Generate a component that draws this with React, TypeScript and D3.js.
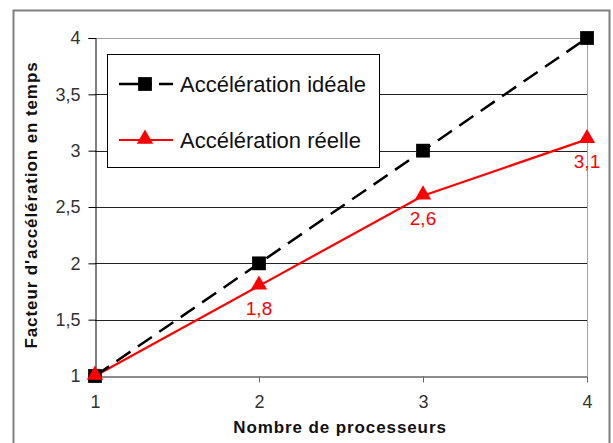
import { useEffect, useRef } from 'react';
import * as d3 from 'd3';

const processors = [1, 2, 3, 4];
const ideal = [1, 2, 3, 4];
const actual = [1, 1.8, 2.6, 3.1];
const actualLabels = ['', '1,8', '2,6', '3,1'];
const yTicks = [1, 1.5, 2, 2.5, 3, 3.5, 4];

const fmt = (v: number) => String(v).replace('.', ',');

export default function App() {
  const svgRef = useRef<SVGSVGElement>(null);

  useEffect(() => {
    if (!svgRef.current) return;
    d3.select(svgRef.current).selectAll('*').remove();

    const width = 613;
    const height = 443;
    const font = 'Liberation Sans, Arial, sans-serif';

    const svg = d3
      .select(svgRef.current)
      .attr('width', width)
      .attr('height', height)
      .style('font-family', font);

    svg.append('rect').attr('width', width).attr('height', height).attr('fill', 'white');

    // outer chart frame
    svg
      .append('rect')
      .attr('x', 13.5)
      .attr('y', 10.5)
      .attr('width', 596)
      .attr('height', 450)
      .attr('fill', 'white')
      .attr('stroke', '#7f7f7f')
      .attr('stroke-width', 2);

    const left = 95;
    const right = 587;
    const top = 38;
    const bottom = 376;

    const x = d3.scaleLinear().domain([1, 4]).range([left, right]);
    const y = d3.scaleLinear().domain([1, 4]).range([bottom, top]);

    // gridlines
    svg
      .append('g')
      .selectAll('line')
      .data(yTicks.filter((d) => d > 1))
      .join('line')
      .attr('x1', left)
      .attr('x2', right)
      .attr('y1', (d) => Math.round(y(d)) + 0.5)
      .attr('y2', (d) => Math.round(y(d)) + 0.5)
      .attr('stroke', (d) => (d === 4 ? '#a0a0a0' : '#222'))
      .attr('stroke-width', 1);

    // right plot edge
    svg
      .append('line')
      .attr('x1', right + 0.5)
      .attr('x2', right + 0.5)
      .attr('y1', top)
      .attr('y2', bottom)
      .attr('stroke', '#a0a0a0');

    // y axis
    const yAxis = svg
      .append('g')
      .attr('transform', `translate(${left + 0.5},0)`)
      .call(
        d3
          .axisLeft(y)
          .tickValues(yTicks)
          .tickSize(7)
          .tickPadding(8)
          .tickFormat((d) => fmt(d as number))
      );
    yAxis.selectAll('path, line').attr('stroke', '#000');
    yAxis
      .selectAll('text')
      .attr('font-size', 18)
      .attr('font-family', font)
      .attr('fill', '#333');

    // x axis
    const xAxis = svg
      .append('g')
      .attr('transform', `translate(0,${bottom + 0.5})`)
      .call(
        d3
          .axisBottom(x)
          .tickValues(processors)
          .tickSize(6)
          .tickPadding(13)
          .tickSizeOuter(0)
          .tickFormat((d) => fmt(d as number))
      );
    xAxis.selectAll('path, line').attr('stroke', '#666');
    xAxis.select('.domain').attr('stroke-width', 1.5);
    xAxis
      .selectAll('text')
      .attr('font-size', 18)
      .attr('font-family', font)
      .attr('fill', '#333');

    // axis titles
    svg
      .append('text')
      .attr('x', (left + right) / 2 - 1)
      .attr('y', 433)
      .attr('text-anchor', 'middle')
      .attr('font-size', 17)
      .attr('font-weight', 'bold')
      .attr('letter-spacing', 0.9)
      .attr('fill', '#111')
      .text('Nombre de processeurs');

    svg
      .append('text')
      .attr('transform', `translate(37,205) rotate(-90)`)
      .attr('text-anchor', 'middle')
      .attr('font-size', 17)
      .attr('font-weight', 'bold')
      .attr('letter-spacing', 0.9)
      .attr('fill', '#111')
      .text("Facteur d'accélération en temps");

    // series
    const line = d3
      .line<number>()
      .x((_, i) => x(processors[i]))
      .y((d) => y(d));

    svg
      .append('path')
      .datum(actual)
      .attr('d', line)
      .attr('fill', 'none')
      .attr('stroke', '#ff0000')
      .attr('stroke-width', 2.2);

    svg
      .append('path')
      .datum(ideal)
      .attr('d', line)
      .attr('fill', 'none')
      .attr('stroke', '#000')
      .attr('stroke-width', 2.5)
      .attr('stroke-dasharray', '17,9');

    const square = d3.symbol().type(d3.symbolSquare).size(190);
    const triangle = d3.symbol().type(d3.symbolTriangle).size(115);

    svg
      .append('g')
      .selectAll('path')
      .data(ideal)
      .join('path')
      .attr('d', square)
      .attr('transform', (d, i) => `translate(${x(processors[i])},${y(d)})`)
      .attr('fill', '#000');

    svg
      .append('g')
      .selectAll('path')
      .data(actual)
      .join('path')
      .attr('d', triangle)
      .attr('transform', (d, i) => `translate(${x(processors[i])},${y(d) - 1})`)
      .attr('fill', '#ff0000');

    // data labels
    svg
      .append('g')
      .selectAll('text')
      .data(actual)
      .join('text')
      .attr('x', (_, i) => x(processors[i]))
      .attr('y', (d) => y(d) + 29)
      .attr('text-anchor', 'middle')
      .attr('font-size', 19)
      .attr('fill', '#ff0000')
      .text((_, i) => actualLabels[i]);

    // legend
    const legend = svg.append('g');
    legend
      .append('rect')
      .attr('x', 107.5)
      .attr('y', 54.5)
      .attr('width', 272)
      .attr('height', 113)
      .attr('fill', 'white')
      .attr('stroke', '#000')
      .attr('stroke-width', 1);

    const items = [
      { name: 'Accélération idéale', color: '#000', shape: square, dash: '33,7,14,100', cy: 84 },
      { name: 'Accélération réelle', color: '#ff0000', shape: triangle, dash: null, cy: 140 },
    ];

    items.forEach((it) => {
      legend
        .append('line')
        .attr('x1', 119)
        .attr('x2', 173)
        .attr('y1', it.cy)
        .attr('y2', it.cy)
        .attr('stroke', it.color)
        .attr('stroke-width', it.dash ? 2.5 : 2.2)
        .attr('stroke-dasharray', it.dash);
      legend
        .append('path')
        .attr('d', it.shape)
        .attr('transform', `translate(145,${it.cy - (it.dash ? 0 : 1)})`)
        .attr('fill', it.color);
      legend
        .append('text')
        .attr('x', 180)
        .attr('y', it.cy + 8)
        .attr('font-size', 22)
        .attr('fill', '#111')
        .text(it.name);
    });
  }, []);

  return (
    <div style={{ position: 'absolute', left: 0, top: 0 }}>
      <svg ref={svgRef}></svg>
    </div>
  );
}
